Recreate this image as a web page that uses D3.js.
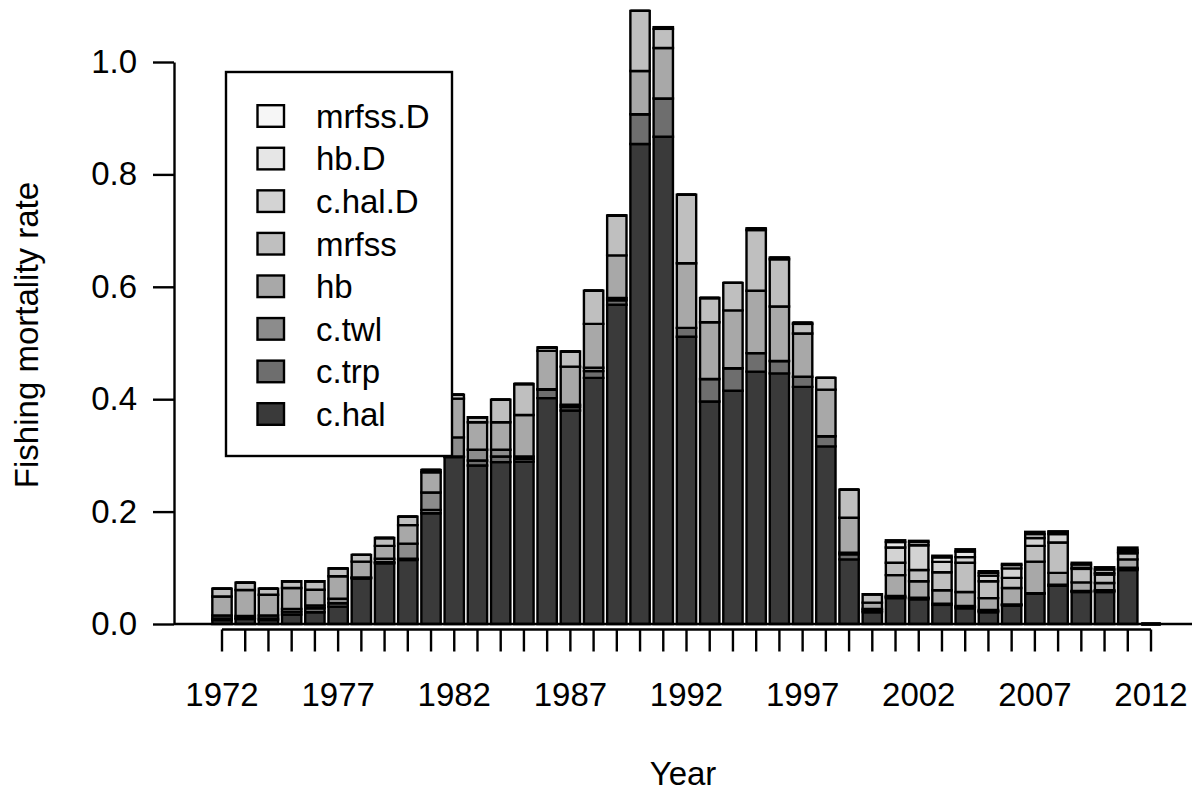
<!DOCTYPE html>
<html>
<head>
<meta charset="utf-8">
<script src="https://cdn.jsdelivr.net/npm/d3@7"></script>
<style>
  html, body { margin: 0; padding: 0; background: #fff; }
  svg { display: block; font-family: "Liberation Sans", Arial, Helvetica, sans-serif; }
</style>
</head>
<body>
<svg id="chart" width="1192" height="797"></svg>
<script>
// Fishing mortality by fleet, stacked by year
const years = d3.range(1972, 2013);

const seriesNames = ["c.hal", "c.trp", "c.twl", "hb", "mrfss", "c.hal.D", "hb.D", "mrfss.D"];
const seriesColors = ["#3a3a3a", "#6e6e6e", "#8c8c8c", "#a8a8a8", "#bfbfbf", "#d3d3d3", "#e6e6e6", "#f6f6f6"];

const cHal = [0.007, 0.009, 0.007, 0.017, 0.021, 0.031, 0.081, 0.108, 0.114, 0.197,
  0.297, 0.282, 0.288, 0.289, 0.402, 0.380, 0.438, 0.568, 0.854, 0.867,
  0.511, 0.396, 0.415, 0.449, 0.446, 0.422, 0.316, 0.115, 0.021, 0.046,
  0.044, 0.034, 0.028, 0.021, 0.033, 0.054, 0.068, 0.057, 0.057, 0.096, 0];
const cTrp = [0.003, 0.002, 0.003, 0.005, 0.007, 0.006, 0.001, 0.002, 0.002, 0.006,
  0.001, 0.009, 0.010, 0.005, 0.015, 0.006, 0.012, 0.008, 0.053, 0.068,
  0.016, 0.040, 0.040, 0.033, 0.022, 0.018, 0.018, 0.009, 0.003, 0.002,
  0.002, 0.001, 0.002, 0.002, 0.001, 0.001, 0.001, 0.001, 0.002, 0.002, 0];
const cTwl = [0.005, 0.0035, 0.005, 0.005, 0.005, 0.008, 0.001, 0.006, 0.027, 0.031,
  0.034, 0.019, 0.012, 0.004, 0.001, 0.004, 0.006, 0.004, 0, 0,
  0, 0, 0, 0, 0, 0, 0, 0.003, 0.003, 0.002,
  0.001, 0.001, 0.002, 0.002, 0.001, 0, 0.001, 0.001, 0.001, 0.002, 0];
const hb = [0.034, 0.046, 0.037, 0.037, 0.028, 0.040, 0.028, 0.023, 0.033, 0.036,
  0.069, 0.049, 0.049, 0.074, 0.068, 0.068, 0.078, 0.076, 0.077, 0.090,
  0.115, 0.101, 0.103, 0.111, 0.097, 0.077, 0.083, 0.062, 0.011, 0.037,
  0.029, 0.024, 0.025, 0.021, 0.029, 0.056, 0.021, 0.015, 0.013, 0.015, 0];
const mrfss = [0.014, 0.013, 0.011, 0.012, 0.015, 0.014, 0.012, 0.014, 0.015, 0.004,
  0.007, 0.009, 0.040, 0.055, 0.006, 0.027, 0.059, 0.071, 0.107, 0.034,
  0.122, 0.043, 0.049, 0.108, 0.084, 0.017, 0.021, 0.050, 0.015, 0.022,
  0.020, 0.032, 0.052, 0.030, 0.018, 0.028, 0.054, 0.024, 0.015, 0.011, 0];
const cHalD = [0, 0, 0, 0, 0, 0, 0, 0, 0, 0,
  0, 0, 0, 0, 0, 0, 0, 0, 0, 0.003,
  0, 0, 0, 0.003, 0.003, 0.002, 0, 0, 0, 0.027,
  0.044, 0.0185, 0.010, 0.010, 0.017, 0.014, 0.015, 0.002, 0.003, 0.002, 0];
const hbD = [0, 0, 0, 0, 0, 0, 0, 0, 0, 0,
  0, 0, 0, 0, 0, 0, 0, 0, 0, 0,
  0, 0, 0, 0, 0, 0, 0, 0, 0, 0.010,
  0.006, 0.008, 0.010, 0.005, 0.006, 0.007, 0.003, 0.006, 0.006, 0.004, 0];
const mrfssD = [0, 0, 0, 0, 0, 0, 0, 0, 0, 0,
  0, 0, 0, 0, 0, 0, 0, 0, 0, 0,
  0, 0, 0, 0, 0, 0, 0, 0, 0, 0.003,
  0.002, 0.003, 0.004, 0.003, 0.002, 0.004, 0.002, 0.003, 0.004, 0.004, 0];

const yTicks = [0, 0.2, 0.4, 0.6, 0.8, 1.0];
const labelYears = [1972, 1977, 1982, 1987, 1992, 1997, 2002, 2007, 2012];

// assemble rows for d3.stack
const seriesData = [cHal, cTrp, cTwl, hb, mrfss, cHalD, hbD, mrfssD];
const rows = years.map((yr, i) => {
  const r = { year: yr };
  seriesNames.forEach((n, k) => { r[n] = seriesData[k][i]; });
  return r;
});
const stacked = d3.stack().keys(seriesNames)(rows);

const svg = d3.select("#chart");
const LW = 2.4;
const FS = 33;

const step = 23.225;
const x = d3.scaleBand()
  .domain(years)
  .range([222 - step / 2, 222 - step / 2 + step * years.length])
  .paddingInner(1 / 6)
  .paddingOuter(1 / 12);
const y = d3.scaleLinear().domain([0, 1]).range([624, 62]);

// bars: drawn as closed paths so zero-height pieces still show their outline
const layers = svg.append("g").selectAll("g")
  .data(stacked)
  .join("g")
  .attr("fill", (d, k) => seriesColors[k]);

layers.selectAll("path")
  .data(d => d)
  .join("path")
  .attr("d", d => {
    const x0 = x(d.data.year), w = x.bandwidth();
    const y0 = y(d[0]), y1 = y(d[1]);
    return `M${x0},${y0}H${x0 + w}V${y1}H${x0}Z`;
  })
  .attr("stroke", "#000")
  .attr("stroke-width", LW)
  .attr("stroke-linejoin", "miter");

// zero line across the plot region
svg.append("line")
  .attr("x1", 174).attr("x2", 1192)
  .attr("y1", y(0)).attr("y2", y(0))
  .attr("stroke", "#000").attr("stroke-width", LW);

// y axis
const yAxis = svg.append("g")
  .attr("transform", "translate(174,0)")
  .call(d3.axisLeft(y).tickValues(yTicks).tickSize(21).tickSizeOuter(0)
    .tickPadding(16).tickFormat(d3.format(".1f")));
yAxis.select(".domain").attr("stroke-width", LW);
yAxis.selectAll(".tick line").attr("stroke-width", LW);
yAxis.selectAll("text").attr("font-size", FS).attr("fill", "#000")
  .attr("font-family", "Liberation Sans, Arial, sans-serif");

// x axis
const xCenter = d => x(d) + x.bandwidth() / 2;
const xAxis = svg.append("g")
  .attr("transform", "translate(0,629.5)")
  .call(d3.axisBottom(x).tickSize(22).tickSizeOuter(0).tickPadding(31)
    .tickFormat(d => labelYears.includes(d) ? String(d) : ""));
xAxis.select(".domain")
  .attr("d", `M${xCenter(years[0])},0H${xCenter(years[years.length - 1])}`)
  .attr("stroke-width", LW);
xAxis.selectAll(".tick line").attr("stroke-width", LW);
xAxis.selectAll("text").attr("font-size", FS).attr("fill", "#000")
  .attr("font-family", "Liberation Sans, Arial, sans-serif");

// axis titles
svg.append("text")
  .attr("x", 683).attr("y", 785)
  .attr("text-anchor", "middle")
  .attr("font-size", FS)
  .text("Year");
svg.append("text")
  .attr("transform", "translate(38,335) rotate(-90)")
  .attr("text-anchor", "middle")
  .attr("font-size", FS)
  .text("Fishing mortality rate");

// legend (top entry is the top of the stack)
const legend = svg.append("g");
legend.append("rect")
  .attr("x", 226).attr("y", 72).attr("width", 226).attr("height", 384)
  .attr("fill", "#fff").attr("stroke", "#000").attr("stroke-width", LW);
const legendOrder = seriesNames.map((n, k) => ({ name: n, color: seriesColors[k] })).reverse();
const ly = d3.scalePoint().domain(legendOrder.map(d => d.name)).range([116, 414]);
const entries = legend.selectAll("g.entry")
  .data(legendOrder)
  .join("g").attr("class", "entry");
entries.append("rect")
  .attr("x", 257.5).attr("y", d => ly(d.name) - 10.8)
  .attr("width", 26.5).attr("height", 21.6)
  .attr("fill", d => d.color)
  .attr("stroke", "#000").attr("stroke-width", LW);
entries.append("text")
  .attr("x", 316).attr("y", d => ly(d.name))
  .attr("dy", "0.36em")
  .attr("font-size", FS)
  .text(d => d.name);
</script>
</body>
</html>
